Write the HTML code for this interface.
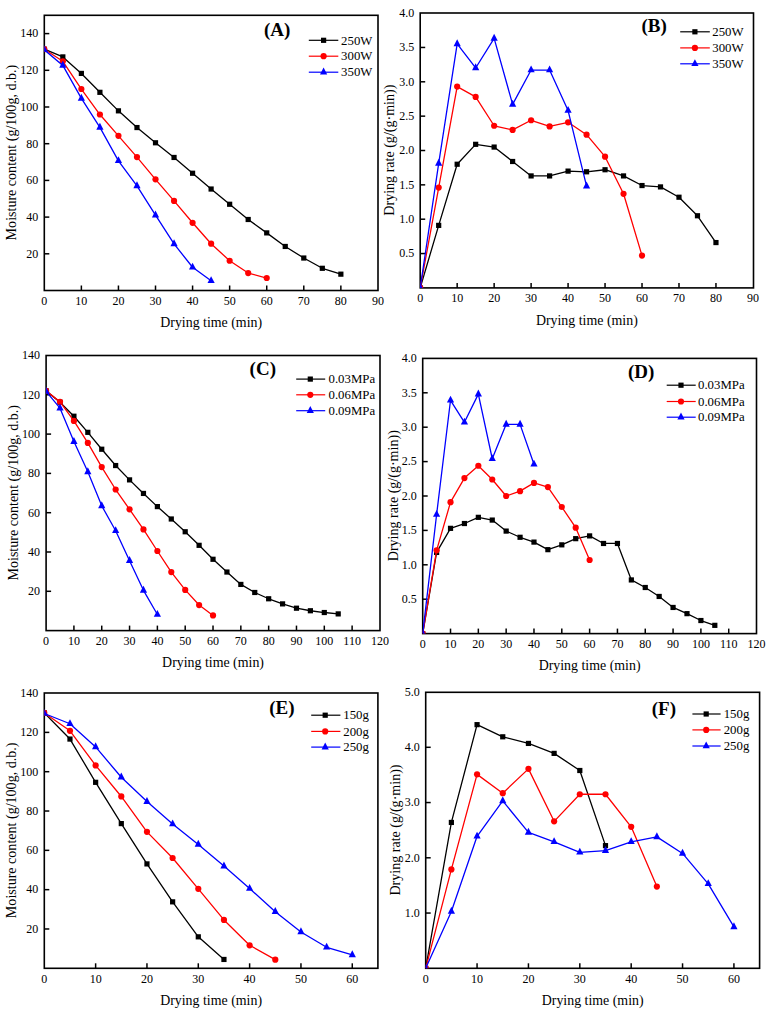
<!DOCTYPE html>
<html><head><meta charset="utf-8"><style>
html,body{margin:0;padding:0;background:#fff;}
svg{display:block;}
text{font-family:"Liberation Serif",serif;fill:#000;}
</style></head><body>
<svg width="767" height="1015" viewBox="0 0 767 1015">
<rect width="767" height="1015" fill="#fff"/>
<g id="panelA">
<clipPath id="clipA"><rect x="44.30" y="15.30" width="333.70" height="275.20"/></clipPath>
<line x1="81.37" y1="290.50" x2="81.37" y2="285.50" stroke="#000" stroke-width="1.5"/>
<line x1="118.44" y1="290.50" x2="118.44" y2="285.50" stroke="#000" stroke-width="1.5"/>
<line x1="155.51" y1="290.50" x2="155.51" y2="285.50" stroke="#000" stroke-width="1.5"/>
<line x1="192.58" y1="290.50" x2="192.58" y2="285.50" stroke="#000" stroke-width="1.5"/>
<line x1="229.65" y1="290.50" x2="229.65" y2="285.50" stroke="#000" stroke-width="1.5"/>
<line x1="266.72" y1="290.50" x2="266.72" y2="285.50" stroke="#000" stroke-width="1.5"/>
<line x1="303.79" y1="290.50" x2="303.79" y2="285.50" stroke="#000" stroke-width="1.5"/>
<line x1="340.86" y1="290.50" x2="340.86" y2="285.50" stroke="#000" stroke-width="1.5"/>
<line x1="44.30" y1="253.80" x2="49.30" y2="253.80" stroke="#000" stroke-width="1.5"/>
<line x1="44.30" y1="217.10" x2="49.30" y2="217.10" stroke="#000" stroke-width="1.5"/>
<line x1="44.30" y1="180.40" x2="49.30" y2="180.40" stroke="#000" stroke-width="1.5"/>
<line x1="44.30" y1="143.70" x2="49.30" y2="143.70" stroke="#000" stroke-width="1.5"/>
<line x1="44.30" y1="107.00" x2="49.30" y2="107.00" stroke="#000" stroke-width="1.5"/>
<line x1="44.30" y1="70.30" x2="49.30" y2="70.30" stroke="#000" stroke-width="1.5"/>
<line x1="44.30" y1="33.60" x2="49.30" y2="33.60" stroke="#000" stroke-width="1.5"/>
<rect x="44.30" y="15.30" width="333.70" height="275.20" fill="none" stroke="#000" stroke-width="1.6"/>
<text x="44.30" y="304.80" font-size="12.0" text-anchor="middle">0</text>
<text x="81.37" y="304.80" font-size="12.0" text-anchor="middle">10</text>
<text x="118.44" y="304.80" font-size="12.0" text-anchor="middle">20</text>
<text x="155.51" y="304.80" font-size="12.0" text-anchor="middle">30</text>
<text x="192.58" y="304.80" font-size="12.0" text-anchor="middle">40</text>
<text x="229.65" y="304.80" font-size="12.0" text-anchor="middle">50</text>
<text x="266.72" y="304.80" font-size="12.0" text-anchor="middle">60</text>
<text x="303.79" y="304.80" font-size="12.0" text-anchor="middle">70</text>
<text x="340.86" y="304.80" font-size="12.0" text-anchor="middle">80</text>
<text x="377.93" y="304.80" font-size="12.0" text-anchor="middle">90</text>
<text x="38.30" y="257.60" font-size="12.0" text-anchor="end">20</text>
<text x="38.30" y="220.90" font-size="12.0" text-anchor="end">40</text>
<text x="38.30" y="184.20" font-size="12.0" text-anchor="end">60</text>
<text x="38.30" y="147.50" font-size="12.0" text-anchor="end">80</text>
<text x="38.30" y="110.80" font-size="12.0" text-anchor="end">100</text>
<text x="38.30" y="74.10" font-size="12.0" text-anchor="end">120</text>
<text x="38.30" y="37.40" font-size="12.0" text-anchor="end">140</text>
<text x="211.15" y="326.90" font-size="13.9" text-anchor="middle">Drying time (min)</text>
<text transform="translate(15.90,152.60) rotate(-90)" x="0" y="0" font-size="14.05" text-anchor="middle">Moisture content (g/100g, d.b.)</text>
<text x="263.90" y="36.30" font-size="19.0" font-weight="bold">(A)</text>
<g clip-path="url(#clipA)">
<polyline points="44.30,49.20 62.83,56.90 81.37,73.42 99.91,92.32 118.44,110.85 136.97,127.55 155.51,142.78 174.05,157.46 192.58,173.24 211.12,189.02 229.65,204.25 248.19,219.49 266.72,232.88 285.25,246.46 303.79,258.02 322.32,268.30 340.86,274.17" fill="none" stroke="#000" stroke-width="1.3" stroke-linejoin="round"/>
<rect x="41.70" y="46.60" width="5.20" height="5.20" fill="#000"/>
<rect x="60.23" y="54.30" width="5.20" height="5.20" fill="#000"/>
<rect x="78.77" y="70.82" width="5.20" height="5.20" fill="#000"/>
<rect x="97.31" y="89.72" width="5.20" height="5.20" fill="#000"/>
<rect x="115.84" y="108.25" width="5.20" height="5.20" fill="#000"/>
<rect x="134.38" y="124.95" width="5.20" height="5.20" fill="#000"/>
<rect x="152.91" y="140.18" width="5.20" height="5.20" fill="#000"/>
<rect x="171.45" y="154.86" width="5.20" height="5.20" fill="#000"/>
<rect x="189.98" y="170.64" width="5.20" height="5.20" fill="#000"/>
<rect x="208.52" y="186.42" width="5.20" height="5.20" fill="#000"/>
<rect x="227.05" y="201.66" width="5.20" height="5.20" fill="#000"/>
<rect x="245.59" y="216.89" width="5.20" height="5.20" fill="#000"/>
<rect x="264.12" y="230.28" width="5.20" height="5.20" fill="#000"/>
<rect x="282.65" y="243.86" width="5.20" height="5.20" fill="#000"/>
<rect x="301.19" y="255.42" width="5.20" height="5.20" fill="#000"/>
<rect x="319.72" y="265.70" width="5.20" height="5.20" fill="#000"/>
<rect x="338.26" y="271.57" width="5.20" height="5.20" fill="#000"/>
<polyline points="44.30,49.20 62.83,61.31 81.37,89.02 99.91,114.52 118.44,135.81 136.97,157.10 155.51,179.30 174.05,200.95 192.58,222.79 211.12,243.71 229.65,260.77 248.19,273.07 266.72,278.02" fill="none" stroke="#ff0000" stroke-width="1.3" stroke-linejoin="round"/>
<circle cx="44.30" cy="49.20" r="3.10" fill="#ff0000"/>
<circle cx="62.83" cy="61.31" r="3.10" fill="#ff0000"/>
<circle cx="81.37" cy="89.02" r="3.10" fill="#ff0000"/>
<circle cx="99.91" cy="114.52" r="3.10" fill="#ff0000"/>
<circle cx="118.44" cy="135.81" r="3.10" fill="#ff0000"/>
<circle cx="136.97" cy="157.10" r="3.10" fill="#ff0000"/>
<circle cx="155.51" cy="179.30" r="3.10" fill="#ff0000"/>
<circle cx="174.05" cy="200.95" r="3.10" fill="#ff0000"/>
<circle cx="192.58" cy="222.79" r="3.10" fill="#ff0000"/>
<circle cx="211.12" cy="243.71" r="3.10" fill="#ff0000"/>
<circle cx="229.65" cy="260.77" r="3.10" fill="#ff0000"/>
<circle cx="248.19" cy="273.07" r="3.10" fill="#ff0000"/>
<circle cx="266.72" cy="278.02" r="3.10" fill="#ff0000"/>
<polyline points="44.30,49.80 62.83,65.40 81.37,98.43 99.91,127.42 118.44,160.81 136.97,185.95 155.51,215.13 174.05,243.94 192.58,267.25 211.12,280.82" fill="none" stroke="#0000ff" stroke-width="1.3" stroke-linejoin="round"/>
<polygon points="40.70,52.10 47.90,52.10 44.30,45.20" fill="#0000ff"/>
<polygon points="59.23,67.70 66.43,67.70 62.83,60.80" fill="#0000ff"/>
<polygon points="77.77,100.73 84.97,100.73 81.37,93.83" fill="#0000ff"/>
<polygon points="96.31,129.72 103.50,129.72 99.91,122.82" fill="#0000ff"/>
<polygon points="114.84,163.12 122.04,163.12 118.44,156.22" fill="#0000ff"/>
<polygon points="133.38,188.25 140.57,188.25 136.97,181.35" fill="#0000ff"/>
<polygon points="151.91,217.43 159.11,217.43 155.51,210.53" fill="#0000ff"/>
<polygon points="170.45,246.24 177.65,246.24 174.05,239.34" fill="#0000ff"/>
<polygon points="188.98,269.55 196.18,269.55 192.58,262.64" fill="#0000ff"/>
<polygon points="207.52,283.12 214.72,283.12 211.12,276.22" fill="#0000ff"/>
</g>
<line x1="308.80" y1="40.30" x2="338.30" y2="40.30" stroke="#000" stroke-width="1.2"/>
<rect x="321.00" y="37.70" width="5.20" height="5.20" fill="#000"/>
<text x="341.10" y="44.50" font-size="12.8">250W</text>
<line x1="308.80" y1="56.20" x2="338.30" y2="56.20" stroke="#ff0000" stroke-width="1.2"/>
<circle cx="323.60" cy="56.20" r="3.10" fill="#ff0000"/>
<text x="341.10" y="60.40" font-size="12.8">300W</text>
<line x1="308.80" y1="72.20" x2="338.30" y2="72.20" stroke="#0000ff" stroke-width="1.2"/>
<polygon points="320.00,74.50 327.20,74.50 323.60,67.60" fill="#0000ff"/>
<text x="341.10" y="76.40" font-size="12.8">350W</text>
</g>
<g id="panelB">
<clipPath id="clipB"><rect x="420.20" y="13.00" width="333.30" height="274.90"/></clipPath>
<line x1="457.17" y1="287.90" x2="457.17" y2="282.90" stroke="#000" stroke-width="1.5"/>
<line x1="494.14" y1="287.90" x2="494.14" y2="282.90" stroke="#000" stroke-width="1.5"/>
<line x1="531.11" y1="287.90" x2="531.11" y2="282.90" stroke="#000" stroke-width="1.5"/>
<line x1="568.08" y1="287.90" x2="568.08" y2="282.90" stroke="#000" stroke-width="1.5"/>
<line x1="605.05" y1="287.90" x2="605.05" y2="282.90" stroke="#000" stroke-width="1.5"/>
<line x1="642.02" y1="287.90" x2="642.02" y2="282.90" stroke="#000" stroke-width="1.5"/>
<line x1="678.99" y1="287.90" x2="678.99" y2="282.90" stroke="#000" stroke-width="1.5"/>
<line x1="715.96" y1="287.90" x2="715.96" y2="282.90" stroke="#000" stroke-width="1.5"/>
<line x1="420.20" y1="253.55" x2="425.20" y2="253.55" stroke="#000" stroke-width="1.5"/>
<line x1="420.20" y1="219.20" x2="425.20" y2="219.20" stroke="#000" stroke-width="1.5"/>
<line x1="420.20" y1="184.85" x2="425.20" y2="184.85" stroke="#000" stroke-width="1.5"/>
<line x1="420.20" y1="150.50" x2="425.20" y2="150.50" stroke="#000" stroke-width="1.5"/>
<line x1="420.20" y1="116.15" x2="425.20" y2="116.15" stroke="#000" stroke-width="1.5"/>
<line x1="420.20" y1="81.80" x2="425.20" y2="81.80" stroke="#000" stroke-width="1.5"/>
<line x1="420.20" y1="47.45" x2="425.20" y2="47.45" stroke="#000" stroke-width="1.5"/>
<rect x="420.20" y="13.00" width="333.30" height="274.90" fill="none" stroke="#000" stroke-width="1.6"/>
<text x="420.20" y="302.20" font-size="12.0" text-anchor="middle">0</text>
<text x="457.17" y="302.20" font-size="12.0" text-anchor="middle">10</text>
<text x="494.14" y="302.20" font-size="12.0" text-anchor="middle">20</text>
<text x="531.11" y="302.20" font-size="12.0" text-anchor="middle">30</text>
<text x="568.08" y="302.20" font-size="12.0" text-anchor="middle">40</text>
<text x="605.05" y="302.20" font-size="12.0" text-anchor="middle">50</text>
<text x="642.02" y="302.20" font-size="12.0" text-anchor="middle">60</text>
<text x="678.99" y="302.20" font-size="12.0" text-anchor="middle">70</text>
<text x="715.96" y="302.20" font-size="12.0" text-anchor="middle">80</text>
<text x="752.93" y="302.20" font-size="12.0" text-anchor="middle">90</text>
<text x="414.20" y="257.35" font-size="12.0" text-anchor="end">0.5</text>
<text x="414.20" y="223.00" font-size="12.0" text-anchor="end">1.0</text>
<text x="414.20" y="188.65" font-size="12.0" text-anchor="end">1.5</text>
<text x="414.20" y="154.30" font-size="12.0" text-anchor="end">2.0</text>
<text x="414.20" y="119.95" font-size="12.0" text-anchor="end">2.5</text>
<text x="414.20" y="85.60" font-size="12.0" text-anchor="end">3.0</text>
<text x="414.20" y="51.25" font-size="12.0" text-anchor="end">3.5</text>
<text x="414.20" y="16.90" font-size="12.0" text-anchor="end">4.0</text>
<text x="586.85" y="324.70" font-size="13.9" text-anchor="middle">Drying time (min)</text>
<text transform="translate(393.50,150.15) rotate(-90)" x="0" y="0" font-size="14.05" text-anchor="middle">Drying rate (g/(g·min))</text>
<text x="641.50" y="31.50" font-size="19.0" font-weight="bold">(B)</text>
<g clip-path="url(#clipB)">
<polyline points="420.20,287.90 438.69,225.38 457.17,164.24 475.65,144.32 494.14,147.06 512.62,161.49 531.11,175.92 549.60,175.92 568.08,171.11 586.57,171.80 605.05,169.74 623.53,175.92 642.02,185.54 660.50,186.91 678.99,197.22 697.47,215.76 715.96,242.56" fill="none" stroke="#000" stroke-width="1.3" stroke-linejoin="round"/>
<rect x="417.60" y="285.30" width="5.20" height="5.20" fill="#000"/>
<rect x="436.08" y="222.78" width="5.20" height="5.20" fill="#000"/>
<rect x="454.57" y="161.64" width="5.20" height="5.20" fill="#000"/>
<rect x="473.05" y="141.72" width="5.20" height="5.20" fill="#000"/>
<rect x="491.54" y="144.47" width="5.20" height="5.20" fill="#000"/>
<rect x="510.02" y="158.89" width="5.20" height="5.20" fill="#000"/>
<rect x="528.51" y="173.32" width="5.20" height="5.20" fill="#000"/>
<rect x="547.00" y="173.32" width="5.20" height="5.20" fill="#000"/>
<rect x="565.48" y="168.51" width="5.20" height="5.20" fill="#000"/>
<rect x="583.97" y="169.20" width="5.20" height="5.20" fill="#000"/>
<rect x="602.45" y="167.14" width="5.20" height="5.20" fill="#000"/>
<rect x="620.93" y="173.32" width="5.20" height="5.20" fill="#000"/>
<rect x="639.42" y="182.94" width="5.20" height="5.20" fill="#000"/>
<rect x="657.90" y="184.31" width="5.20" height="5.20" fill="#000"/>
<rect x="676.39" y="194.62" width="5.20" height="5.20" fill="#000"/>
<rect x="694.87" y="213.16" width="5.20" height="5.20" fill="#000"/>
<rect x="713.36" y="239.96" width="5.20" height="5.20" fill="#000"/>
<polyline points="420.20,287.90 438.69,187.60 457.17,86.61 475.65,96.91 494.14,125.77 512.62,129.89 531.11,120.27 549.60,126.45 568.08,122.33 586.57,134.70 605.05,156.68 623.53,193.78 642.02,255.61" fill="none" stroke="#ff0000" stroke-width="1.3" stroke-linejoin="round"/>
<circle cx="420.20" cy="287.90" r="3.10" fill="#ff0000"/>
<circle cx="438.69" cy="187.60" r="3.10" fill="#ff0000"/>
<circle cx="457.17" cy="86.61" r="3.10" fill="#ff0000"/>
<circle cx="475.65" cy="96.91" r="3.10" fill="#ff0000"/>
<circle cx="494.14" cy="125.77" r="3.10" fill="#ff0000"/>
<circle cx="512.62" cy="129.89" r="3.10" fill="#ff0000"/>
<circle cx="531.11" cy="120.27" r="3.10" fill="#ff0000"/>
<circle cx="549.60" cy="126.45" r="3.10" fill="#ff0000"/>
<circle cx="568.08" cy="122.33" r="3.10" fill="#ff0000"/>
<circle cx="586.57" cy="134.70" r="3.10" fill="#ff0000"/>
<circle cx="605.05" cy="156.68" r="3.10" fill="#ff0000"/>
<circle cx="623.53" cy="193.78" r="3.10" fill="#ff0000"/>
<circle cx="642.02" cy="255.61" r="3.10" fill="#ff0000"/>
<polyline points="420.20,287.90 438.69,163.47 457.17,43.93 475.65,67.97 494.14,38.43 512.62,104.38 531.11,70.03 549.60,70.03 568.08,110.57 586.57,186.14" fill="none" stroke="#0000ff" stroke-width="1.3" stroke-linejoin="round"/>
<polygon points="416.60,290.20 423.80,290.20 420.20,283.30" fill="#0000ff"/>
<polygon points="435.08,165.77 442.29,165.77 438.69,158.87" fill="#0000ff"/>
<polygon points="453.57,46.23 460.77,46.23 457.17,39.33" fill="#0000ff"/>
<polygon points="472.05,70.27 479.25,70.27 475.65,63.37" fill="#0000ff"/>
<polygon points="490.54,40.73 497.74,40.73 494.14,33.83" fill="#0000ff"/>
<polygon points="509.02,106.68 516.23,106.68 512.62,99.78" fill="#0000ff"/>
<polygon points="527.51,72.33 534.71,72.33 531.11,65.43" fill="#0000ff"/>
<polygon points="546.00,72.33 553.20,72.33 549.60,65.43" fill="#0000ff"/>
<polygon points="564.48,112.87 571.68,112.87 568.08,105.97" fill="#0000ff"/>
<polygon points="582.97,188.44 590.17,188.44 586.57,181.54" fill="#0000ff"/>
</g>
<line x1="680.20" y1="31.80" x2="709.80" y2="31.80" stroke="#000" stroke-width="1.2"/>
<rect x="692.30" y="29.20" width="5.20" height="5.20" fill="#000"/>
<text x="712.30" y="36.00" font-size="12.8">250W</text>
<line x1="680.20" y1="47.90" x2="709.80" y2="47.90" stroke="#ff0000" stroke-width="1.2"/>
<circle cx="694.90" cy="47.90" r="3.10" fill="#ff0000"/>
<text x="712.30" y="52.10" font-size="12.8">300W</text>
<line x1="680.20" y1="63.80" x2="709.80" y2="63.80" stroke="#0000ff" stroke-width="1.2"/>
<polygon points="691.30,66.10 698.50,66.10 694.90,59.20" fill="#0000ff"/>
<text x="712.30" y="68.00" font-size="12.8">350W</text>
</g>
<g id="panelC">
<clipPath id="clipC"><rect x="46.10" y="355.50" width="333.90" height="275.10"/></clipPath>
<line x1="73.92" y1="630.60" x2="73.92" y2="625.60" stroke="#000" stroke-width="1.5"/>
<line x1="101.74" y1="630.60" x2="101.74" y2="625.60" stroke="#000" stroke-width="1.5"/>
<line x1="129.56" y1="630.60" x2="129.56" y2="625.60" stroke="#000" stroke-width="1.5"/>
<line x1="157.38" y1="630.60" x2="157.38" y2="625.60" stroke="#000" stroke-width="1.5"/>
<line x1="185.20" y1="630.60" x2="185.20" y2="625.60" stroke="#000" stroke-width="1.5"/>
<line x1="213.02" y1="630.60" x2="213.02" y2="625.60" stroke="#000" stroke-width="1.5"/>
<line x1="240.84" y1="630.60" x2="240.84" y2="625.60" stroke="#000" stroke-width="1.5"/>
<line x1="268.66" y1="630.60" x2="268.66" y2="625.60" stroke="#000" stroke-width="1.5"/>
<line x1="296.48" y1="630.60" x2="296.48" y2="625.60" stroke="#000" stroke-width="1.5"/>
<line x1="324.30" y1="630.60" x2="324.30" y2="625.60" stroke="#000" stroke-width="1.5"/>
<line x1="352.12" y1="630.60" x2="352.12" y2="625.60" stroke="#000" stroke-width="1.5"/>
<line x1="46.10" y1="591.30" x2="51.10" y2="591.30" stroke="#000" stroke-width="1.5"/>
<line x1="46.10" y1="552.00" x2="51.10" y2="552.00" stroke="#000" stroke-width="1.5"/>
<line x1="46.10" y1="512.70" x2="51.10" y2="512.70" stroke="#000" stroke-width="1.5"/>
<line x1="46.10" y1="473.40" x2="51.10" y2="473.40" stroke="#000" stroke-width="1.5"/>
<line x1="46.10" y1="434.10" x2="51.10" y2="434.10" stroke="#000" stroke-width="1.5"/>
<line x1="46.10" y1="394.80" x2="51.10" y2="394.80" stroke="#000" stroke-width="1.5"/>
<rect x="46.10" y="355.50" width="333.90" height="275.10" fill="none" stroke="#000" stroke-width="1.6"/>
<text x="46.10" y="644.90" font-size="12.0" text-anchor="middle">0</text>
<text x="73.92" y="644.90" font-size="12.0" text-anchor="middle">10</text>
<text x="101.74" y="644.90" font-size="12.0" text-anchor="middle">20</text>
<text x="129.56" y="644.90" font-size="12.0" text-anchor="middle">30</text>
<text x="157.38" y="644.90" font-size="12.0" text-anchor="middle">40</text>
<text x="185.20" y="644.90" font-size="12.0" text-anchor="middle">50</text>
<text x="213.02" y="644.90" font-size="12.0" text-anchor="middle">60</text>
<text x="240.84" y="644.90" font-size="12.0" text-anchor="middle">70</text>
<text x="268.66" y="644.90" font-size="12.0" text-anchor="middle">80</text>
<text x="296.48" y="644.90" font-size="12.0" text-anchor="middle">90</text>
<text x="324.30" y="644.90" font-size="12.0" text-anchor="middle">100</text>
<text x="352.12" y="644.90" font-size="12.0" text-anchor="middle">110</text>
<text x="379.94" y="644.90" font-size="12.0" text-anchor="middle">120</text>
<text x="40.10" y="595.10" font-size="12.0" text-anchor="end">20</text>
<text x="40.10" y="555.80" font-size="12.0" text-anchor="end">40</text>
<text x="40.10" y="516.50" font-size="12.0" text-anchor="end">60</text>
<text x="40.10" y="477.20" font-size="12.0" text-anchor="end">80</text>
<text x="40.10" y="437.90" font-size="12.0" text-anchor="end">100</text>
<text x="40.10" y="398.60" font-size="12.0" text-anchor="end">120</text>
<text x="40.10" y="359.30" font-size="12.0" text-anchor="end">140</text>
<text x="213.05" y="667.40" font-size="13.9" text-anchor="middle">Drying time (min)</text>
<text transform="translate(17.90,492.75) rotate(-90)" x="0" y="0" font-size="14.05" text-anchor="middle">Moisture content (g/100g, d.b.)</text>
<text x="249.60" y="375.30" font-size="19.0" font-weight="bold">(C)</text>
<g clip-path="url(#clipC)">
<polyline points="46.10,390.87 60.01,402.27 73.92,416.22 87.83,432.33 101.74,449.23 115.65,465.54 129.56,479.88 143.47,493.44 157.38,506.61 171.29,518.99 185.20,531.76 199.11,545.32 213.02,559.27 226.93,572.04 240.84,584.42 254.75,592.48 268.66,598.77 282.57,603.88 296.48,608.20 310.39,610.75 324.30,612.52 338.21,613.90" fill="none" stroke="#000" stroke-width="1.3" stroke-linejoin="round"/>
<rect x="43.50" y="388.27" width="5.20" height="5.20" fill="#000"/>
<rect x="57.41" y="399.67" width="5.20" height="5.20" fill="#000"/>
<rect x="71.32" y="413.62" width="5.20" height="5.20" fill="#000"/>
<rect x="85.23" y="429.73" width="5.20" height="5.20" fill="#000"/>
<rect x="99.14" y="446.63" width="5.20" height="5.20" fill="#000"/>
<rect x="113.05" y="462.94" width="5.20" height="5.20" fill="#000"/>
<rect x="126.96" y="477.28" width="5.20" height="5.20" fill="#000"/>
<rect x="140.87" y="490.84" width="5.20" height="5.20" fill="#000"/>
<rect x="154.78" y="504.01" width="5.20" height="5.20" fill="#000"/>
<rect x="168.69" y="516.39" width="5.20" height="5.20" fill="#000"/>
<rect x="182.60" y="529.16" width="5.20" height="5.20" fill="#000"/>
<rect x="196.51" y="542.72" width="5.20" height="5.20" fill="#000"/>
<rect x="210.42" y="556.67" width="5.20" height="5.20" fill="#000"/>
<rect x="224.33" y="569.44" width="5.20" height="5.20" fill="#000"/>
<rect x="238.24" y="581.82" width="5.20" height="5.20" fill="#000"/>
<rect x="252.15" y="589.88" width="5.20" height="5.20" fill="#000"/>
<rect x="266.06" y="596.17" width="5.20" height="5.20" fill="#000"/>
<rect x="279.97" y="601.28" width="5.20" height="5.20" fill="#000"/>
<rect x="293.88" y="605.60" width="5.20" height="5.20" fill="#000"/>
<rect x="307.79" y="608.15" width="5.20" height="5.20" fill="#000"/>
<rect x="321.70" y="609.92" width="5.20" height="5.20" fill="#000"/>
<rect x="335.61" y="611.30" width="5.20" height="5.20" fill="#000"/>
<polyline points="46.10,390.87 60.01,401.87 73.92,420.93 87.83,442.94 101.74,467.11 115.65,489.51 129.56,509.36 143.47,529.40 157.38,551.02 171.29,572.04 185.20,589.92 199.11,605.06 213.02,615.47" fill="none" stroke="#ff0000" stroke-width="1.3" stroke-linejoin="round"/>
<circle cx="46.10" cy="390.87" r="3.10" fill="#ff0000"/>
<circle cx="60.01" cy="401.87" r="3.10" fill="#ff0000"/>
<circle cx="73.92" cy="420.93" r="3.10" fill="#ff0000"/>
<circle cx="87.83" cy="442.94" r="3.10" fill="#ff0000"/>
<circle cx="101.74" cy="467.11" r="3.10" fill="#ff0000"/>
<circle cx="115.65" cy="489.51" r="3.10" fill="#ff0000"/>
<circle cx="129.56" cy="509.36" r="3.10" fill="#ff0000"/>
<circle cx="143.47" cy="529.40" r="3.10" fill="#ff0000"/>
<circle cx="157.38" cy="551.02" r="3.10" fill="#ff0000"/>
<circle cx="171.29" cy="572.04" r="3.10" fill="#ff0000"/>
<circle cx="185.20" cy="589.92" r="3.10" fill="#ff0000"/>
<circle cx="199.11" cy="605.06" r="3.10" fill="#ff0000"/>
<circle cx="213.02" cy="615.47" r="3.10" fill="#ff0000"/>
<polyline points="46.10,391.47 60.01,408.17 73.92,441.58 87.83,471.84 101.74,505.83 115.65,530.79 129.56,560.66 143.47,590.33 157.38,614.50" fill="none" stroke="#0000ff" stroke-width="1.3" stroke-linejoin="round"/>
<polygon points="42.50,393.77 49.70,393.77 46.10,386.87" fill="#0000ff"/>
<polygon points="56.41,410.47 63.61,410.47 60.01,403.57" fill="#0000ff"/>
<polygon points="70.32,443.88 77.52,443.88 73.92,436.98" fill="#0000ff"/>
<polygon points="84.23,474.14 91.43,474.14 87.83,467.24" fill="#0000ff"/>
<polygon points="98.14,508.13 105.34,508.13 101.74,501.23" fill="#0000ff"/>
<polygon points="112.05,533.09 119.25,533.09 115.65,526.19" fill="#0000ff"/>
<polygon points="125.96,562.96 133.16,562.96 129.56,556.06" fill="#0000ff"/>
<polygon points="139.87,592.63 147.07,592.63 143.47,585.73" fill="#0000ff"/>
<polygon points="153.78,616.80 160.98,616.80 157.38,609.90" fill="#0000ff"/>
</g>
<line x1="296.20" y1="379.10" x2="325.20" y2="379.10" stroke="#000" stroke-width="1.2"/>
<rect x="307.70" y="376.50" width="5.20" height="5.20" fill="#000"/>
<text x="328.50" y="383.30" font-size="12.8">0.03MPa</text>
<line x1="296.20" y1="394.80" x2="325.20" y2="394.80" stroke="#ff0000" stroke-width="1.2"/>
<circle cx="310.30" cy="394.80" r="3.10" fill="#ff0000"/>
<text x="328.50" y="399.00" font-size="12.8">0.06MPa</text>
<line x1="296.20" y1="410.70" x2="325.20" y2="410.70" stroke="#0000ff" stroke-width="1.2"/>
<polygon points="306.70,413.00 313.90,413.00 310.30,406.10" fill="#0000ff"/>
<text x="328.50" y="414.90" font-size="12.8">0.09MPa</text>
</g>
<g id="panelD">
<clipPath id="clipD"><rect x="422.70" y="358.40" width="333.80" height="275.20"/></clipPath>
<line x1="450.52" y1="633.60" x2="450.52" y2="628.60" stroke="#000" stroke-width="1.5"/>
<line x1="478.34" y1="633.60" x2="478.34" y2="628.60" stroke="#000" stroke-width="1.5"/>
<line x1="506.16" y1="633.60" x2="506.16" y2="628.60" stroke="#000" stroke-width="1.5"/>
<line x1="533.98" y1="633.60" x2="533.98" y2="628.60" stroke="#000" stroke-width="1.5"/>
<line x1="561.80" y1="633.60" x2="561.80" y2="628.60" stroke="#000" stroke-width="1.5"/>
<line x1="589.62" y1="633.60" x2="589.62" y2="628.60" stroke="#000" stroke-width="1.5"/>
<line x1="617.44" y1="633.60" x2="617.44" y2="628.60" stroke="#000" stroke-width="1.5"/>
<line x1="645.26" y1="633.60" x2="645.26" y2="628.60" stroke="#000" stroke-width="1.5"/>
<line x1="673.08" y1="633.60" x2="673.08" y2="628.60" stroke="#000" stroke-width="1.5"/>
<line x1="700.90" y1="633.60" x2="700.90" y2="628.60" stroke="#000" stroke-width="1.5"/>
<line x1="728.72" y1="633.60" x2="728.72" y2="628.60" stroke="#000" stroke-width="1.5"/>
<line x1="422.70" y1="599.20" x2="427.70" y2="599.20" stroke="#000" stroke-width="1.5"/>
<line x1="422.70" y1="564.80" x2="427.70" y2="564.80" stroke="#000" stroke-width="1.5"/>
<line x1="422.70" y1="530.40" x2="427.70" y2="530.40" stroke="#000" stroke-width="1.5"/>
<line x1="422.70" y1="496.00" x2="427.70" y2="496.00" stroke="#000" stroke-width="1.5"/>
<line x1="422.70" y1="461.60" x2="427.70" y2="461.60" stroke="#000" stroke-width="1.5"/>
<line x1="422.70" y1="427.20" x2="427.70" y2="427.20" stroke="#000" stroke-width="1.5"/>
<line x1="422.70" y1="392.80" x2="427.70" y2="392.80" stroke="#000" stroke-width="1.5"/>
<rect x="422.70" y="358.40" width="333.80" height="275.20" fill="none" stroke="#000" stroke-width="1.6"/>
<text x="422.70" y="647.90" font-size="12.0" text-anchor="middle">0</text>
<text x="450.52" y="647.90" font-size="12.0" text-anchor="middle">10</text>
<text x="478.34" y="647.90" font-size="12.0" text-anchor="middle">20</text>
<text x="506.16" y="647.90" font-size="12.0" text-anchor="middle">30</text>
<text x="533.98" y="647.90" font-size="12.0" text-anchor="middle">40</text>
<text x="561.80" y="647.90" font-size="12.0" text-anchor="middle">50</text>
<text x="589.62" y="647.90" font-size="12.0" text-anchor="middle">60</text>
<text x="617.44" y="647.90" font-size="12.0" text-anchor="middle">70</text>
<text x="645.26" y="647.90" font-size="12.0" text-anchor="middle">80</text>
<text x="673.08" y="647.90" font-size="12.0" text-anchor="middle">90</text>
<text x="700.90" y="647.90" font-size="12.0" text-anchor="middle">100</text>
<text x="728.72" y="647.90" font-size="12.0" text-anchor="middle">110</text>
<text x="756.54" y="647.90" font-size="12.0" text-anchor="middle">120</text>
<text x="416.70" y="603.00" font-size="12.0" text-anchor="end">0.5</text>
<text x="416.70" y="568.60" font-size="12.0" text-anchor="end">1.0</text>
<text x="416.70" y="534.20" font-size="12.0" text-anchor="end">1.5</text>
<text x="416.70" y="499.80" font-size="12.0" text-anchor="end">2.0</text>
<text x="416.70" y="465.40" font-size="12.0" text-anchor="end">2.5</text>
<text x="416.70" y="431.00" font-size="12.0" text-anchor="end">3.0</text>
<text x="416.70" y="396.60" font-size="12.0" text-anchor="end">3.5</text>
<text x="416.70" y="362.20" font-size="12.0" text-anchor="end">4.0</text>
<text x="589.60" y="670.20" font-size="13.9" text-anchor="middle">Drying time (min)</text>
<text transform="translate(397.50,495.70) rotate(-90)" x="0" y="0" font-size="14.05" text-anchor="middle">Drying rate (g/(g·min))</text>
<text x="628.00" y="378.10" font-size="19.0" font-weight="bold">(D)</text>
<g clip-path="url(#clipD)">
<polyline points="422.70,633.60 436.61,552.42 450.52,528.34 464.43,523.52 478.34,517.33 492.25,520.08 506.16,531.09 520.07,537.28 533.98,542.10 547.89,549.66 561.80,544.85 575.71,538.66 589.62,535.90 603.53,543.47 617.44,543.47 631.35,579.94 645.26,587.50 659.17,596.45 673.08,607.46 686.99,613.65 700.90,620.53 714.81,625.34" fill="none" stroke="#000" stroke-width="1.3" stroke-linejoin="round"/>
<rect x="420.10" y="631.00" width="5.20" height="5.20" fill="#000"/>
<rect x="434.01" y="549.82" width="5.20" height="5.20" fill="#000"/>
<rect x="447.92" y="525.74" width="5.20" height="5.20" fill="#000"/>
<rect x="461.83" y="520.92" width="5.20" height="5.20" fill="#000"/>
<rect x="475.74" y="514.73" width="5.20" height="5.20" fill="#000"/>
<rect x="489.65" y="517.48" width="5.20" height="5.20" fill="#000"/>
<rect x="503.56" y="528.49" width="5.20" height="5.20" fill="#000"/>
<rect x="517.47" y="534.68" width="5.20" height="5.20" fill="#000"/>
<rect x="531.38" y="539.50" width="5.20" height="5.20" fill="#000"/>
<rect x="545.29" y="547.06" width="5.20" height="5.20" fill="#000"/>
<rect x="559.20" y="542.25" width="5.20" height="5.20" fill="#000"/>
<rect x="573.11" y="536.06" width="5.20" height="5.20" fill="#000"/>
<rect x="587.02" y="533.30" width="5.20" height="5.20" fill="#000"/>
<rect x="600.93" y="540.87" width="5.20" height="5.20" fill="#000"/>
<rect x="614.84" y="540.87" width="5.20" height="5.20" fill="#000"/>
<rect x="628.75" y="577.34" width="5.20" height="5.20" fill="#000"/>
<rect x="642.66" y="584.90" width="5.20" height="5.20" fill="#000"/>
<rect x="656.57" y="593.85" width="5.20" height="5.20" fill="#000"/>
<rect x="670.48" y="604.86" width="5.20" height="5.20" fill="#000"/>
<rect x="684.39" y="611.05" width="5.20" height="5.20" fill="#000"/>
<rect x="698.30" y="617.93" width="5.20" height="5.20" fill="#000"/>
<rect x="712.21" y="622.74" width="5.20" height="5.20" fill="#000"/>
<polyline points="422.70,633.60 436.61,550.35 450.52,502.19 464.43,478.11 478.34,465.73 492.25,479.49 506.16,496.00 520.07,491.18 533.98,482.93 547.89,487.06 561.80,507.01 575.71,527.65 589.62,559.98" fill="none" stroke="#ff0000" stroke-width="1.3" stroke-linejoin="round"/>
<circle cx="422.70" cy="633.60" r="3.10" fill="#ff0000"/>
<circle cx="436.61" cy="550.35" r="3.10" fill="#ff0000"/>
<circle cx="450.52" cy="502.19" r="3.10" fill="#ff0000"/>
<circle cx="464.43" cy="478.11" r="3.10" fill="#ff0000"/>
<circle cx="478.34" cy="465.73" r="3.10" fill="#ff0000"/>
<circle cx="492.25" cy="479.49" r="3.10" fill="#ff0000"/>
<circle cx="506.16" cy="496.00" r="3.10" fill="#ff0000"/>
<circle cx="520.07" cy="491.18" r="3.10" fill="#ff0000"/>
<circle cx="533.98" cy="482.93" r="3.10" fill="#ff0000"/>
<circle cx="547.89" cy="487.06" r="3.10" fill="#ff0000"/>
<circle cx="561.80" cy="507.01" r="3.10" fill="#ff0000"/>
<circle cx="575.71" cy="527.65" r="3.10" fill="#ff0000"/>
<circle cx="589.62" cy="559.98" r="3.10" fill="#ff0000"/>
<polyline points="422.70,633.60 436.61,514.49 450.52,400.28 464.43,422.30 478.34,394.09 492.25,458.76 506.16,424.36 520.07,424.36 533.98,464.26" fill="none" stroke="#0000ff" stroke-width="1.3" stroke-linejoin="round"/>
<polygon points="419.10,635.90 426.30,635.90 422.70,629.00" fill="#0000ff"/>
<polygon points="433.01,516.79 440.21,516.79 436.61,509.89" fill="#0000ff"/>
<polygon points="446.92,402.58 454.12,402.58 450.52,395.68" fill="#0000ff"/>
<polygon points="460.83,424.60 468.03,424.60 464.43,417.70" fill="#0000ff"/>
<polygon points="474.74,396.39 481.94,396.39 478.34,389.49" fill="#0000ff"/>
<polygon points="488.65,461.06 495.85,461.06 492.25,454.16" fill="#0000ff"/>
<polygon points="502.56,426.66 509.76,426.66 506.16,419.76" fill="#0000ff"/>
<polygon points="516.47,426.66 523.67,426.66 520.07,419.76" fill="#0000ff"/>
<polygon points="530.38,466.56 537.58,466.56 533.98,459.66" fill="#0000ff"/>
</g>
<line x1="666.70" y1="385.20" x2="695.70" y2="385.20" stroke="#000" stroke-width="1.2"/>
<rect x="678.40" y="382.60" width="5.20" height="5.20" fill="#000"/>
<text x="698.00" y="389.40" font-size="12.8">0.03MPa</text>
<line x1="666.70" y1="401.50" x2="695.70" y2="401.50" stroke="#ff0000" stroke-width="1.2"/>
<circle cx="681.00" cy="401.50" r="3.10" fill="#ff0000"/>
<text x="698.00" y="405.70" font-size="12.8">0.06MPa</text>
<line x1="666.70" y1="417.20" x2="695.70" y2="417.20" stroke="#0000ff" stroke-width="1.2"/>
<polygon points="677.40,419.50 684.60,419.50 681.00,412.60" fill="#0000ff"/>
<text x="698.00" y="421.40" font-size="12.8">0.09MPa</text>
</g>
<g id="panelE">
<clipPath id="clipE"><rect x="44.30" y="693.00" width="333.60" height="275.30"/></clipPath>
<line x1="95.63" y1="968.30" x2="95.63" y2="963.30" stroke="#000" stroke-width="1.5"/>
<line x1="146.96" y1="968.30" x2="146.96" y2="963.30" stroke="#000" stroke-width="1.5"/>
<line x1="198.29" y1="968.30" x2="198.29" y2="963.30" stroke="#000" stroke-width="1.5"/>
<line x1="249.62" y1="968.30" x2="249.62" y2="963.30" stroke="#000" stroke-width="1.5"/>
<line x1="300.95" y1="968.30" x2="300.95" y2="963.30" stroke="#000" stroke-width="1.5"/>
<line x1="352.28" y1="968.30" x2="352.28" y2="963.30" stroke="#000" stroke-width="1.5"/>
<line x1="44.30" y1="928.98" x2="49.30" y2="928.98" stroke="#000" stroke-width="1.5"/>
<line x1="44.30" y1="889.66" x2="49.30" y2="889.66" stroke="#000" stroke-width="1.5"/>
<line x1="44.30" y1="850.34" x2="49.30" y2="850.34" stroke="#000" stroke-width="1.5"/>
<line x1="44.30" y1="811.02" x2="49.30" y2="811.02" stroke="#000" stroke-width="1.5"/>
<line x1="44.30" y1="771.70" x2="49.30" y2="771.70" stroke="#000" stroke-width="1.5"/>
<line x1="44.30" y1="732.38" x2="49.30" y2="732.38" stroke="#000" stroke-width="1.5"/>
<rect x="44.30" y="693.00" width="333.60" height="275.30" fill="none" stroke="#000" stroke-width="1.6"/>
<text x="44.30" y="982.60" font-size="12.0" text-anchor="middle">0</text>
<text x="95.63" y="982.60" font-size="12.0" text-anchor="middle">10</text>
<text x="146.96" y="982.60" font-size="12.0" text-anchor="middle">20</text>
<text x="198.29" y="982.60" font-size="12.0" text-anchor="middle">30</text>
<text x="249.62" y="982.60" font-size="12.0" text-anchor="middle">40</text>
<text x="300.95" y="982.60" font-size="12.0" text-anchor="middle">50</text>
<text x="352.28" y="982.60" font-size="12.0" text-anchor="middle">60</text>
<text x="38.30" y="932.78" font-size="12.0" text-anchor="end">20</text>
<text x="38.30" y="893.46" font-size="12.0" text-anchor="end">40</text>
<text x="38.30" y="854.14" font-size="12.0" text-anchor="end">60</text>
<text x="38.30" y="814.82" font-size="12.0" text-anchor="end">80</text>
<text x="38.30" y="775.50" font-size="12.0" text-anchor="end">100</text>
<text x="38.30" y="736.18" font-size="12.0" text-anchor="end">120</text>
<text x="38.30" y="696.86" font-size="12.0" text-anchor="end">140</text>
<text x="211.10" y="1005.20" font-size="13.9" text-anchor="middle">Drying time (min)</text>
<text transform="translate(16.10,830.35) rotate(-90)" x="0" y="0" font-size="14.05" text-anchor="middle">Moisture content (g/100g, d.b.)</text>
<text x="269.30" y="713.90" font-size="19.0" font-weight="bold">(E)</text>
<g clip-path="url(#clipE)">
<polyline points="44.30,712.92 69.97,739.06 95.63,782.32 121.30,823.60 146.96,863.91 172.62,901.85 198.29,936.84 223.95,959.45" fill="none" stroke="#000" stroke-width="1.3" stroke-linejoin="round"/>
<rect x="41.70" y="710.32" width="5.20" height="5.20" fill="#000"/>
<rect x="67.37" y="736.46" width="5.20" height="5.20" fill="#000"/>
<rect x="93.03" y="779.72" width="5.20" height="5.20" fill="#000"/>
<rect x="118.70" y="821.00" width="5.20" height="5.20" fill="#000"/>
<rect x="144.36" y="861.31" width="5.20" height="5.20" fill="#000"/>
<rect x="170.03" y="899.25" width="5.20" height="5.20" fill="#000"/>
<rect x="195.69" y="934.24" width="5.20" height="5.20" fill="#000"/>
<rect x="221.35" y="956.85" width="5.20" height="5.20" fill="#000"/>
<polyline points="44.30,712.92 69.97,730.81 95.63,765.41 121.30,796.47 146.96,831.86 172.62,858.01 198.29,888.87 223.95,919.94 249.62,945.30 275.29,959.65" fill="none" stroke="#ff0000" stroke-width="1.3" stroke-linejoin="round"/>
<circle cx="44.30" cy="712.92" r="3.10" fill="#ff0000"/>
<circle cx="69.97" cy="730.81" r="3.10" fill="#ff0000"/>
<circle cx="95.63" cy="765.41" r="3.10" fill="#ff0000"/>
<circle cx="121.30" cy="796.47" r="3.10" fill="#ff0000"/>
<circle cx="146.96" cy="831.86" r="3.10" fill="#ff0000"/>
<circle cx="172.62" cy="858.01" r="3.10" fill="#ff0000"/>
<circle cx="198.29" cy="888.87" r="3.10" fill="#ff0000"/>
<circle cx="223.95" cy="919.94" r="3.10" fill="#ff0000"/>
<circle cx="249.62" cy="945.30" r="3.10" fill="#ff0000"/>
<circle cx="275.29" cy="959.65" r="3.10" fill="#ff0000"/>
<polyline points="44.30,713.52 69.97,723.74 95.63,746.94 121.30,777.22 146.96,801.59 172.62,824.01 198.29,844.45 223.95,866.08 249.62,888.49 275.29,911.69 300.95,931.94 326.62,947.27 352.28,954.94" fill="none" stroke="#0000ff" stroke-width="1.3" stroke-linejoin="round"/>
<polygon points="40.70,715.82 47.90,715.82 44.30,708.92" fill="#0000ff"/>
<polygon points="66.37,726.04 73.56,726.04 69.97,719.14" fill="#0000ff"/>
<polygon points="92.03,749.24 99.23,749.24 95.63,742.34" fill="#0000ff"/>
<polygon points="117.70,779.51 124.89,779.51 121.30,772.62" fill="#0000ff"/>
<polygon points="143.36,803.89 150.56,803.89 146.96,796.99" fill="#0000ff"/>
<polygon points="169.03,826.31 176.22,826.31 172.62,819.41" fill="#0000ff"/>
<polygon points="194.69,846.75 201.89,846.75 198.29,839.85" fill="#0000ff"/>
<polygon points="220.35,868.38 227.55,868.38 223.95,861.48" fill="#0000ff"/>
<polygon points="246.02,890.79 253.22,890.79 249.62,883.89" fill="#0000ff"/>
<polygon points="271.69,913.99 278.89,913.99 275.29,907.09" fill="#0000ff"/>
<polygon points="297.35,934.24 304.55,934.24 300.95,927.34" fill="#0000ff"/>
<polygon points="323.01,949.57 330.22,949.57 326.62,942.67" fill="#0000ff"/>
<polygon points="348.68,957.24 355.88,957.24 352.28,950.34" fill="#0000ff"/>
</g>
<line x1="311.20" y1="715.20" x2="340.40" y2="715.20" stroke="#000" stroke-width="1.2"/>
<rect x="322.60" y="712.60" width="5.20" height="5.20" fill="#000"/>
<text x="343.30" y="719.40" font-size="12.8">150g</text>
<line x1="311.20" y1="731.40" x2="340.40" y2="731.40" stroke="#ff0000" stroke-width="1.2"/>
<circle cx="325.20" cy="731.40" r="3.10" fill="#ff0000"/>
<text x="343.30" y="735.60" font-size="12.8">200g</text>
<line x1="311.20" y1="747.10" x2="340.40" y2="747.10" stroke="#0000ff" stroke-width="1.2"/>
<polygon points="321.60,749.40 328.80,749.40 325.20,742.50" fill="#0000ff"/>
<text x="343.30" y="751.30" font-size="12.8">250g</text>
</g>
<g id="panelF">
<clipPath id="clipF"><rect x="425.70" y="692.30" width="333.90" height="276.00"/></clipPath>
<line x1="477.07" y1="968.30" x2="477.07" y2="963.30" stroke="#000" stroke-width="1.5"/>
<line x1="528.44" y1="968.30" x2="528.44" y2="963.30" stroke="#000" stroke-width="1.5"/>
<line x1="579.81" y1="968.30" x2="579.81" y2="963.30" stroke="#000" stroke-width="1.5"/>
<line x1="631.18" y1="968.30" x2="631.18" y2="963.30" stroke="#000" stroke-width="1.5"/>
<line x1="682.55" y1="968.30" x2="682.55" y2="963.30" stroke="#000" stroke-width="1.5"/>
<line x1="733.92" y1="968.30" x2="733.92" y2="963.30" stroke="#000" stroke-width="1.5"/>
<line x1="425.70" y1="913.05" x2="430.70" y2="913.05" stroke="#000" stroke-width="1.5"/>
<line x1="425.70" y1="857.80" x2="430.70" y2="857.80" stroke="#000" stroke-width="1.5"/>
<line x1="425.70" y1="802.55" x2="430.70" y2="802.55" stroke="#000" stroke-width="1.5"/>
<line x1="425.70" y1="747.30" x2="430.70" y2="747.30" stroke="#000" stroke-width="1.5"/>
<rect x="425.70" y="692.30" width="333.90" height="276.00" fill="none" stroke="#000" stroke-width="1.6"/>
<text x="425.70" y="982.60" font-size="12.0" text-anchor="middle">0</text>
<text x="477.07" y="982.60" font-size="12.0" text-anchor="middle">10</text>
<text x="528.44" y="982.60" font-size="12.0" text-anchor="middle">20</text>
<text x="579.81" y="982.60" font-size="12.0" text-anchor="middle">30</text>
<text x="631.18" y="982.60" font-size="12.0" text-anchor="middle">40</text>
<text x="682.55" y="982.60" font-size="12.0" text-anchor="middle">50</text>
<text x="733.92" y="982.60" font-size="12.0" text-anchor="middle">60</text>
<text x="419.70" y="916.85" font-size="12.0" text-anchor="end">1.0</text>
<text x="419.70" y="861.60" font-size="12.0" text-anchor="end">2.0</text>
<text x="419.70" y="806.35" font-size="12.0" text-anchor="end">3.0</text>
<text x="419.70" y="751.10" font-size="12.0" text-anchor="end">4.0</text>
<text x="419.70" y="695.85" font-size="12.0" text-anchor="end">5.0</text>
<text x="592.65" y="1004.80" font-size="13.9" text-anchor="middle">Drying time (min)</text>
<text transform="translate(400.30,830.00) rotate(-90)" x="0" y="0" font-size="14.05" text-anchor="middle">Drying rate (g/(g·min))</text>
<text x="651.80" y="714.90" font-size="19.0" font-weight="bold">(F)</text>
<g clip-path="url(#clipF)">
<polyline points="425.70,968.30 451.38,822.44 477.07,724.65 502.75,736.80 528.44,743.43 554.12,753.38 579.81,770.50 605.50,845.64" fill="none" stroke="#000" stroke-width="1.3" stroke-linejoin="round"/>
<rect x="423.10" y="965.70" width="5.20" height="5.20" fill="#000"/>
<rect x="448.78" y="819.84" width="5.20" height="5.20" fill="#000"/>
<rect x="474.47" y="722.05" width="5.20" height="5.20" fill="#000"/>
<rect x="500.15" y="734.20" width="5.20" height="5.20" fill="#000"/>
<rect x="525.84" y="740.83" width="5.20" height="5.20" fill="#000"/>
<rect x="551.52" y="750.78" width="5.20" height="5.20" fill="#000"/>
<rect x="577.21" y="767.90" width="5.20" height="5.20" fill="#000"/>
<rect x="602.89" y="843.04" width="5.20" height="5.20" fill="#000"/>
<polyline points="425.70,968.30 451.38,869.40 477.07,774.37 502.75,793.16 528.44,768.85 554.12,821.33 579.81,794.26 605.50,794.26 631.18,826.86 656.87,886.53" fill="none" stroke="#ff0000" stroke-width="1.3" stroke-linejoin="round"/>
<circle cx="425.70" cy="968.30" r="3.10" fill="#ff0000"/>
<circle cx="451.38" cy="869.40" r="3.10" fill="#ff0000"/>
<circle cx="477.07" cy="774.37" r="3.10" fill="#ff0000"/>
<circle cx="502.75" cy="793.16" r="3.10" fill="#ff0000"/>
<circle cx="528.44" cy="768.85" r="3.10" fill="#ff0000"/>
<circle cx="554.12" cy="821.33" r="3.10" fill="#ff0000"/>
<circle cx="579.81" cy="794.26" r="3.10" fill="#ff0000"/>
<circle cx="605.50" cy="794.26" r="3.10" fill="#ff0000"/>
<circle cx="631.18" cy="826.86" r="3.10" fill="#ff0000"/>
<circle cx="656.87" cy="886.53" r="3.10" fill="#ff0000"/>
<polyline points="425.70,968.30 451.38,911.44 477.07,836.30 502.75,800.94 528.44,832.43 554.12,841.82 579.81,852.32 605.50,850.66 631.18,841.82 656.87,836.85 682.55,853.43 708.23,883.81 733.92,926.91" fill="none" stroke="#0000ff" stroke-width="1.3" stroke-linejoin="round"/>
<polygon points="422.10,970.60 429.30,970.60 425.70,963.70" fill="#0000ff"/>
<polygon points="447.78,913.74 454.99,913.74 451.38,906.84" fill="#0000ff"/>
<polygon points="473.47,838.60 480.67,838.60 477.07,831.70" fill="#0000ff"/>
<polygon points="499.15,803.24 506.36,803.24 502.75,796.34" fill="#0000ff"/>
<polygon points="524.84,834.73 532.04,834.73 528.44,827.83" fill="#0000ff"/>
<polygon points="550.52,844.12 557.73,844.12 554.12,837.22" fill="#0000ff"/>
<polygon points="576.21,854.62 583.41,854.62 579.81,847.72" fill="#0000ff"/>
<polygon points="601.89,852.96 609.10,852.96 605.50,846.06" fill="#0000ff"/>
<polygon points="627.58,844.12 634.78,844.12 631.18,837.22" fill="#0000ff"/>
<polygon points="653.26,839.15 660.47,839.15 656.87,832.25" fill="#0000ff"/>
<polygon points="678.95,855.73 686.15,855.73 682.55,848.83" fill="#0000ff"/>
<polygon points="704.63,886.11 711.83,886.11 708.23,879.21" fill="#0000ff"/>
<polygon points="730.32,929.21 737.52,929.21 733.92,922.31" fill="#0000ff"/>
</g>
<line x1="692.40" y1="714.00" x2="720.60" y2="714.00" stroke="#000" stroke-width="1.2"/>
<rect x="703.60" y="711.40" width="5.20" height="5.20" fill="#000"/>
<text x="723.70" y="718.20" font-size="12.8">150g</text>
<line x1="692.40" y1="729.90" x2="720.60" y2="729.90" stroke="#ff0000" stroke-width="1.2"/>
<circle cx="706.20" cy="729.90" r="3.10" fill="#ff0000"/>
<text x="723.70" y="734.10" font-size="12.8">200g</text>
<line x1="692.40" y1="746.00" x2="720.60" y2="746.00" stroke="#0000ff" stroke-width="1.2"/>
<polygon points="702.60,748.30 709.80,748.30 706.20,741.40" fill="#0000ff"/>
<text x="723.70" y="750.20" font-size="12.8">250g</text>
</g>
</svg>
</body></html>
